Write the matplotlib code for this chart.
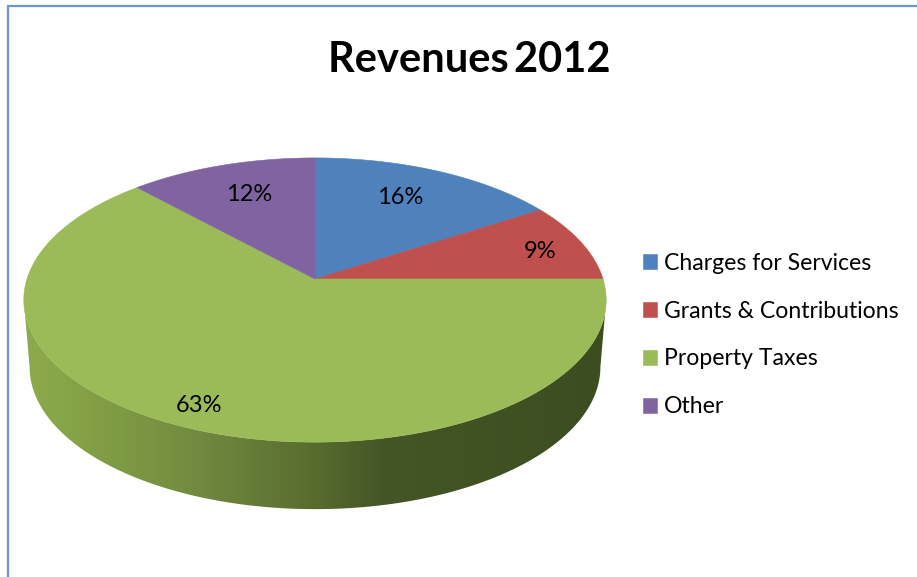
import numpy as np
import matplotlib
matplotlib.use("Agg")
import matplotlib.pyplot as plt
from matplotlib.colors import LinearSegmentedColormap
from matplotlib.patches import Polygon

# --- DATA ---
categorias = ["Charges for Services", "Grants & Contributions", "Property Taxes", "Other"]
valores = [16, 9, 63, 12]
cores = ["#4f81bd", "#c0504d", "#9bbb59", "#8064a2"]
titulo = "Revenues\u20092012"
# --------------------

# pie geometry, in image pixels
CX, CY = 315, 279
RX, RY = 288, 139
K = 0.148          # perspective of the tilted disc
DEPTH = 67
BASE_X = 0.98
RAIO_ROTULO = [0.718, 0.83, 0.875, 0.715]
DESVIO_ROTULO = [1.9, -2.2, -0.6, -1.0]  # degrees off the middle of the slice


def projeta(ang, r=1.0, base=False):
    c, s = r * np.cos(ang), r * np.sin(ang)
    d = 1 + K * s
    x, y = RX * c / d, -RY * s / d
    if base:
        return CX + BASE_X * x, CY + y + DEPTH
    return CX + x, CY + y


plt.rcParams["font.family"] = ["Lato", "DejaVu Sans"]
fig, ax = plt.subplots(figsize=(9.17, 5.77), dpi=100)
ax.set_position([0, 0, 1, 1])
ax.axis("off")

# chart frame (only left and top show up in the crop)
ax.plot([8, 8, 917], [577, 6, 6], color="#6a96d6", lw=1.6, solid_joinstyle="miter")

fracao = np.array(valores) / sum(valores)
limites = np.pi / 2 - 2 * np.pi * np.concatenate([[0], np.cumsum(fracao)])

# side of the disc, dark gradient from left to right, clipped to its outline
# the outline runs between the widest points of the projected ellipse
extremo = np.arcsin(K)
lado = np.linspace(np.pi + extremo, 2 * np.pi - extremo, 400)
xt, yt = projeta(lado)
xb, yb = projeta(lado, base=True)
contorno = np.column_stack([np.r_[xt, xb[::-1]], np.r_[yt, yb[::-1]]])
grad = LinearSegmentedColormap.from_list(
    "lado",
    [(0.0, "#8dab4c"), (0.15, "#7f9c45"), (0.3, "#708a3f"), (0.48, "#5b6f31"),
     (0.62, "#445625"), (1.0, "#3c4e20")])
im = ax.imshow(np.linspace(0, 1, 512)[None, :], cmap=grad, extent=(24, 605, 577, 0),
               aspect="auto", zorder=1)
im.set_clip_path(Polygon(contorno, transform=ax.transData))

# top of the disc
handles = []
for i, cat in enumerate(categorias):
    t = np.linspace(limites[i], limites[i + 1], 200)
    x, y = projeta(t)
    fatia = ax.fill(np.r_[CX, x], np.r_[CY, y], color=cores[i], lw=0.4, label=cat, zorder=2)[0]
    handles.append(fatia)
    meio = (limites[i] + limites[i + 1]) / 2 + np.radians(DESVIO_ROTULO[i])
    lx, ly = projeta(meio, RAIO_ROTULO[i])
    ax.text(lx, ly, f"{valores[i]}%", fontsize=17, color="black", ha="center", va="center", zorder=3)

ax.text(469, 60, titulo, fontsize=30, fontweight="bold", color="black", ha="center", va="center")

ax.set_xlim(0, 917)
ax.set_ylim(577, 0)

leg = ax.legend(handles=handles, loc="center left", bbox_to_anchor=(643, 335),
                bbox_transform=ax.transData, frameon=False, fontsize=16.6,
                handlelength=0.61, handleheight=0.61, handletextpad=0.31,
                labelspacing=1.165, borderpad=0, borderaxespad=0)

fig.savefig("out.png", dpi=100, facecolor="white")
plt.close(fig)
